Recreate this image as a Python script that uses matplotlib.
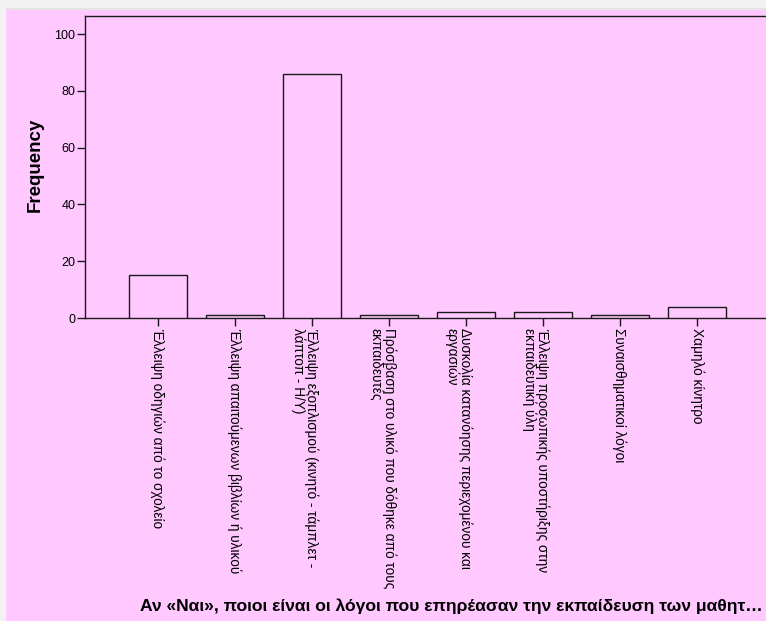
import matplotlib.pyplot as plt
from matplotlib import transforms

# ----------------------------
# Data
# ----------------------------
categories = [
    "Έλλειψη οδηγιών από το σχολείο",
    "Έλλειψη απαιτούμενων βιβλίων ή υλικού",
    "Έλλειψη εξοπλισμού (κινητό - τάμπλετ -\nλάπτοπ - Η/Υ)",
    "Πρόσβαση στο υλικό που δόθηκε από τους\nεκπαιδευτές",
    "Δυσκολία κατανόησης περιεχομένου και\nεργασιών",
    "Έλλειψη προσωπικής υποστήριξης στην\nεκπαιδευτική ύλη",
    "Συναισθηματικοί λόγοι",
    "Χαμηλό κίνητρο",
]
frequency = [15, 1, 86, 1, 2, 2, 1, 4]
y_ticks = [0, 20, 40, 60, 80, 100]
x_title = "Αν «Ναι», ποιοι είναι οι λόγοι που επηρέασαν την εκπαίδευση των μαθητ…"
y_title = "Frequency"

# ----------------------------
# Style
# ----------------------------
panel_colour = "#FFC8FF"
outer_colour = "#F2F2F2"
line_colour = "#1a1a1a"
font = ["Liberation Sans", "DejaVu Sans"]
plt.rcParams["font.family"] = font

W, H, DPI = 766, 621, 100
fig = plt.figure(figsize=(W / DPI, H / DPI), dpi=DPI)
fig.patch.set_facecolor(outer_colour)

# pink chart panel (behind the axes)
fig.patches.append(plt.Rectangle((6 / W, 0), 1, 1 - 10 / H, transform=fig.transFigure,
                                 facecolor=panel_colour, edgecolor="none", zorder=-2))
fig.patches.append(plt.Rectangle((6 / W, 1 - 10 / H), 1, 2 / H, transform=fig.transFigure,
                                 facecolor="#E4E4E4", edgecolor="none", zorder=-2))

# axes: left spine at x=85, bottom at y=318, top at y=16
ax_left, ax_right = 85, W
ax_top, ax_bottom = 16, 318
ax = fig.add_axes([ax_left / W, 1 - ax_bottom / H, (ax_right - ax_left) / W, (ax_bottom - ax_top) / H])
ax.set_facecolor("none")
ax.set_zorder(2)

x = list(range(len(categories)))
ax.bar(x, frequency, width=0.75, facecolor=panel_colour, edgecolor=line_colour, linewidth=1.0, zorder=3)

spacing = 77.0
ax.set_xlim(-(158 - ax_left) / spacing, (ax_right - 158) / spacing)
ax.set_ylim(0, (ax_bottom - ax_top) / ((318 - 34) / 100))

for side in ("left", "top", "bottom"):
    ax.spines[side].set_color(line_colour)
    ax.spines[side].set_linewidth(1.0)
ax.spines["right"].set_visible(False)

ax.set_yticks(y_ticks)
ax.set_yticklabels([str(v) for v in y_ticks], fontsize=9)
ax.tick_params(axis="y", length=6, width=1, color=line_colour, pad=1)
ax.set_xticks(x)
ax.set_xticklabels([])
ax.tick_params(axis="x", length=6, width=1, color=line_colour)

# rotated category labels, first line centred on the tick
trans = transforms.blended_transform_factory(ax.transData, ax.transAxes)
offset = transforms.ScaledTranslation(7 / DPI, -10 / DPI, fig.dpi_scale_trans)
for xi, label in zip(x, categories):
    ax.text(xi, 0, label, transform=trans + offset, rotation=270, rotation_mode="anchor",
            ha="left", va="top", fontsize=9.8, linespacing=0.95, color="black")

fig.text(35 / W, 1 - 165 / H, y_title, rotation=90, ha="center", va="center",
         fontsize=13.5, fontweight="bold")
fig.text(140 / W, 1 - 606 / H, x_title, ha="left", va="center",
         fontsize=12.6, fontweight="bold")

fig.savefig("out.png", dpi=DPI, facecolor=outer_colour)
